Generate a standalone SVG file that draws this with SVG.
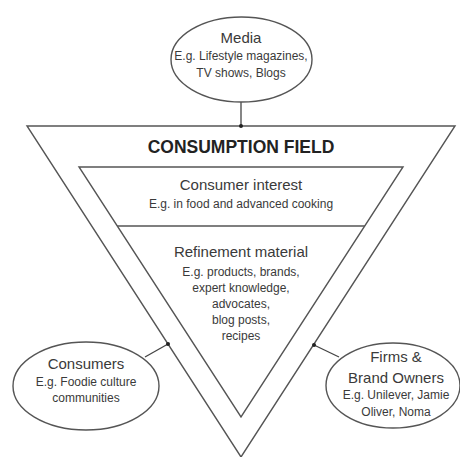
<svg xmlns="http://www.w3.org/2000/svg" width="460" height="457" viewBox="0 0 460 457">
<style>
.shape{fill:#fff;stroke:#555;stroke-width:1.4}
.line{fill:none;stroke:#444;stroke-width:1.3}
.dot{fill:#222}
text{font-family:"Liberation Sans",Arial,sans-serif;fill:#3a3a3a;text-anchor:middle}
.t{font-size:15px}
.s{font-size:12px}
.h{font-size:17.5px;font-weight:bold;fill:#222}
</style>
<rect width="460" height="457" fill="#fff"/>
<g id="field">
<polygon class="shape" points="27,126 455,126 241,457"/>
<text class="h" x="241" y="153">CONSUMPTION FIELD</text>
</g>
<g id="interest">
<polygon class="shape" points="79,167 403,167 241,417"/>
<text class="t" x="241" y="190">Consumer interest</text>
<text class="s" x="241" y="208">E.g. in food and advanced cooking</text>
</g>
<g id="refinement">
<line class="shape" x1="117.2" y1="226" x2="364.8" y2="226"/>
<text class="t" x="241" y="257">Refinement material</text>
<text class="s" x="241" y="276">E.g. products, brands,</text>
<text class="s" x="241" y="292">expert knowledge,</text>
<text class="s" x="241" y="308">advocates,</text>
<text class="s" x="241" y="324">blog posts,</text>
<text class="s" x="241" y="340">recipes</text>
</g>
<g id="connectors">
<line class="line" x1="241" y1="102" x2="241" y2="126"/>
<circle class="dot" cx="241" cy="126" r="2"/>
<line class="line" x1="145" y1="357" x2="168" y2="344"/>
<circle class="dot" cx="168" cy="344" r="2"/>
<line class="line" x1="339" y1="357" x2="314" y2="345"/>
<circle class="dot" cx="314" cy="345" r="2"/>
</g>
<g id="media">
<ellipse class="shape" cx="241.5" cy="59.5" rx="70.5" ry="42.5"/>
<text class="t" x="241" y="43">Media</text>
<text class="s" x="241" y="60">E.g. Lifestyle magazines,</text>
<text class="s" x="241" y="77">TV shows, Blogs</text>
</g>
<g id="consumers">
<ellipse class="shape" cx="86" cy="386" rx="73" ry="44"/>
<text class="t" x="86" y="369">Consumers</text>
<text class="s" x="86" y="386">E.g. Foodie culture</text>
<text class="s" x="86" y="402">communities</text>
</g>
<g id="firms">
<ellipse class="shape" cx="393" cy="385.5" rx="67" ry="42.5"/>
<text class="t" x="396" y="362">Firms &amp;</text>
<text class="t" x="396" y="383">Brand Owners</text>
<text class="s" x="396" y="399">E.g. Unilever, Jamie</text>
<text class="s" x="396" y="416">Oliver, Noma</text>
</g>
</svg>
